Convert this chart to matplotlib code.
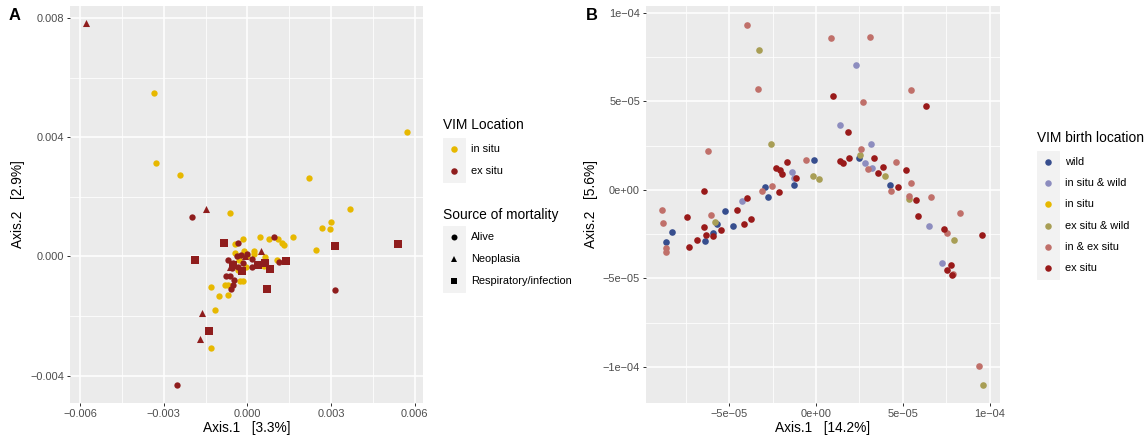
import numpy as np
import matplotlib
matplotlib.use("Agg")
import matplotlib.pyplot as plt
from matplotlib.lines import Line2D
from matplotlib.patches import Rectangle
from matplotlib.ticker import FixedLocator, FixedFormatter

plt.rcParams['font.family'] = ['Liberation Sans', 'DejaVu Sans']

W, H, DPI = 1148, 442, 72

# ---------------- panel A data (units of 1e-3) ----------------
insitu_x = [-3.34, -3.28, -2.42, 5.73, 2.21, 3.69, 3.01, 2.66, 2.95, 2.46, 1.62, -0.62,
            -0.44, -0.14, 0.44, 0.77, 1.11, 1.25, 1.31, -0.43, -0.11, 0.25, 0.25, 0.63,
            1.06, 0.58, -0.34, -0.26, -0.17, -0.80, -0.68, -1.32, -1.01, -0.69, -1.17,
            -1.30, -0.05, -0.02, -0.29]
insitu_y = [5.49, 3.15, 2.75, 4.19, 2.62, 1.60, 1.15, 0.97, 0.93, 0.21, 0.67, 1.45,
            0.41, 0.60, 0.66, 0.59, 0.60, 0.44, 0.40, 0.11, 0.17, 0.18, 0.07, -0.02,
            -0.11, -0.31, -0.45, -0.84, -0.84, -0.95, -0.95, -1.02, -1.32, -1.29, -1.79,
            -3.09, -0.34, 0.00, -0.11]

exsitu_alive_x = [-2.00, -2.54, 3.13, 0.96, -0.34, 1.14, -0.23, -0.02, -0.68, -0.50, -0.32,
                  0.17, 0.17, -0.76, -0.62, -0.47, -0.50, -0.58, -0.14, -0.38, -0.56]
exsitu_alive_y = [1.32, -4.33, -1.14, 0.64, 0.46, -0.17, 0.06, 0.07, -0.13, -0.22, -0.34,
                  -0.09, -0.37, -0.67, -0.67, -0.78, -0.95, -1.10, -0.22, 0.00, -0.39]

neoplasia_x = [-5.77, -1.48, 0.50, -1.62, -1.69, -0.08, -0.62]
neoplasia_y = [7.83, 1.59, 0.17, -1.90, -2.76, 0.02, -0.34]

respiratory_x = [-0.82, -1.86, 3.13, 5.39, 0.69, 1.37, 0.80, 0.37, -0.18, -1.36, 0.65, -0.50]
respiratory_y = [0.45, -0.12, 0.35, 0.41, -1.10, -0.16, -0.42, -0.29, -0.49, -2.50, -0.22, -0.28]

a_xticks = [-0.006, -0.003, 0.0, 0.003, 0.006]
a_xlabels = ["\u22120.006", "\u22120.003", "0.000", "0.003", "0.006"]
a_yticks = [-0.004, 0.0, 0.004, 0.008]
a_ylabels = ["\u22120.004", "0.000", "0.004", "0.008"]

# ---------------- panel B data (units of 1e-5) ----------------
b_groups = ["wild", "in situ & wild", "in situ", "ex situ & wild", "in & ex situ", "ex situ"]
b_colors = ["#374E8E", "#8D8DBF", "#E7B800", "#A89E55", "#C0706A", "#991A1A"]

b_x = {
    "wild": [-0.10, 2.47, -2.95, -2.78, -1.25, -5.24, -4.76, -5.68, -5.91, -6.37, -8.30, -8.63, 4.28],
    "in situ & wild": [2.28, 1.40, 3.15, -1.38, -1.25, -4.28, 2.80, 3.20, 6.48, 7.27],
    "in situ": [],
    "ex situ & wild": [-3.26, -2.57, -0.17, 0.17, 2.53, 3.95, -5.79, 5.33, 7.92, 9.59],
    "in & ex situ": [-3.97, 0.88, 3.09, -3.32, 2.72, 5.45, -6.19, -0.58, 2.57, 4.60, 2.99, -2.53,
                     -3.13, -6.04, -8.84, -8.82, -8.63, -8.63, 4.33, 5.47, 5.37, 6.60, 8.30,
                     7.52, 7.86, 9.36],
    "ex situ": [1.00, 6.35, 1.82, -1.69, -2.32, -2.07, -1.96, -1.15, -2.15, -3.95, -6.46, -4.53,
                -7.44, -7.33, -6.87, -6.43, -6.33, -5.95, -5.47, -4.14, -3.72, 1.38, 1.53, 1.92,
                3.36, 3.84, 3.55, 5.20, 4.70, 5.73, 5.89, 7.36, 7.75, 7.52, 7.84, 9.55],
}
b_y = {
    "wild": [1.67, 1.79, 0.15, -0.39, 0.30, -1.18, -2.03, -1.95, -2.42, -2.91, -2.39, -2.93, 0.30],
    "in situ & wild": [7.03, 3.67, 2.58, 1.03, 0.66, -0.62, 1.54, 1.22, -2.05, -4.14],
    "in situ": [],
    "ex situ & wild": [7.91, 2.59, 0.77, 0.60, 1.97, 0.81, -1.84, -0.49, -2.82, -11.03],
    "in & ex situ": [9.32, 8.55, 8.61, 5.71, 4.94, 5.62, 2.18, 1.69, 2.29, 1.60, 1.18, 0.24,
                     -0.08, -1.39, -1.13, -1.86, -3.29, -3.50, -0.04, 0.38, -0.34, -0.41, -1.33,
                     -2.44, -4.72, -9.94],
    "ex situ": [5.32, 4.76, 3.25, 1.60, 1.24, 1.13, 0.88, 0.66, -0.13, -0.43, -0.06, -1.13,
                -1.52, -3.20, -2.84, -2.09, -2.56, -2.59, -2.24, -1.94, -1.65, 1.65, 1.50, 1.79,
                1.82, 1.30, 0.98, 1.11, 0.15, -0.58, -1.50, -2.18, -4.25, -4.55, -4.83, -2.56],
}

b_xticks = [-5e-5, 0.0, 5e-5, 1e-4]
b_xlabels = ["\u22125e\u221205", "0e+00", "5e\u221205", "1e\u221204"]
b_yticks = [-1e-4, -5e-5, 0.0, 5e-5, 1e-4]
b_ylabels = ["\u22121e\u221204", "\u22125e\u221205", "0e+00", "5e\u221205", "1e\u221204"]

YELLOW = "#E7B800"
DARKRED = "#8F1D1D"


def fx(px):
    return px / W


def fy(py):
    return 1 - py / H


def style_axes(ax, xticks, xlabels, yticks, ylabels):
    ax.set_facecolor('#EBEBEB')
    for s in ax.spines.values():
        s.set_visible(False)
    ax.xaxis.set_major_locator(FixedLocator(xticks))
    ax.xaxis.set_major_formatter(FixedFormatter(xlabels))
    ax.yaxis.set_major_locator(FixedLocator(yticks))
    ax.yaxis.set_major_formatter(FixedFormatter(ylabels))
    xm = np.array(xticks)
    ym = np.array(yticks)
    dx = xm[1] - xm[0]
    dy = ym[1] - ym[0]
    ax.xaxis.set_minor_locator(FixedLocator(list(np.arange(xm[0] - dx, xm[-1] + 2 * dx, dx) + dx / 2)))
    ax.yaxis.set_minor_locator(FixedLocator(list(np.arange(ym[0] - dy, ym[-1] + 2 * dy, dy) + dy / 2)))
    ax.grid(which='major', color='white', lw=1.5)
    ax.grid(which='minor', color='white', lw=0.75)
    ax.tick_params(which='minor', length=0)
    ax.tick_params(which='major', length=3.4, width=1.0, color='#333333',
                   labelcolor='#4D4D4D', labelsize=11, pad=2.5)
    ax.set_axisbelow(True)


def draw_legend(fig, x0, y_title, title, labels, colors, markers, key_top, step, ms):
    fig.text(fx(x0), fy(y_title), title, fontsize=13.75, va='center', ha='left')
    n = len(labels)
    fig.patches.append(Rectangle((fx(x0), fy(key_top + n * step)), 22 / W, n * step / H,
                                 transform=fig.transFigure, color='#F2F2F2', zorder=0))
    for i, (lab, c, m) in enumerate(zip(labels, colors, markers)):
        yc = key_top + step * (i + 0.5)
        fig.add_artist(Line2D([fx(x0 + 11)], [fy(yc)], marker=m, color=c, ms=ms, mew=0,
                              linestyle='none', transform=fig.transFigure))
        fig.text(fx(x0 + 28), fy(yc), lab, fontsize=11, va='center', ha='left')


fig = plt.figure(figsize=(W / DPI, H / DPI), dpi=DPI)

# ---------------- panel A ----------------
axA = fig.add_axes([fx(70), fy(403), 353 / W, 397 / H])
s = 1e-3
axA.scatter(np.array(insitu_x) * s, np.array(insitu_y) * s, s=40, color=YELLOW, marker='o', lw=0)
axA.scatter(np.array(exsitu_alive_x) * s, np.array(exsitu_alive_y) * s, s=40, color=DARKRED, marker='o', lw=0)
axA.scatter(np.array(neoplasia_x) * s, np.array(neoplasia_y) * s, s=50, color=DARKRED, marker='^', lw=0)
axA.scatter(np.array(respiratory_x) * s, np.array(respiratory_y) * s, s=50, color=DARKRED, marker='s', lw=0)
axA.set_xlim(-0.00636, 0.00630)
axA.set_ylim(-0.00492, 0.00841)
style_axes(axA, a_xticks, a_xlabels, a_yticks, a_ylabels)
axA.set_xlabel("Axis.1   [3.3%]", fontsize=13.75, labelpad=2)
axA.set_ylabel("Axis.2   [2.9%]", fontsize=13.75, labelpad=5)
fig.text(fx(9), fy(15), "A", fontsize=16.5, fontweight='bold', va='center', ha='left')

draw_legend(fig, 443, 125, "VIM Location", ["in situ", "ex situ"], [YELLOW, DARKRED],
            ['o', 'o'], 138, 22, 6.5)
draw_legend(fig, 443, 215, "Source of mortality", ["Alive", "Neoplasia", "Respiratory/infection"],
            ['black', 'black', 'black'], ['o', '^', 's'], 226, 22, 6)

# ---------------- panel B ----------------
axB = fig.add_axes([fx(646), fy(403), 354 / W, 397 / H])
sb = 1e-5
for g, c in zip(b_groups, b_colors):
    if len(b_x[g]):
        axB.scatter(np.array(b_x[g]) * sb, np.array(b_y[g]) * sb, s=44, color=c, marker='o', lw=0)
axB.set_xlim(-9.78e-5, 10.59e-5)
axB.set_ylim(-12.03e-5, 10.38e-5)
style_axes(axB, b_xticks, b_xlabels, b_yticks, b_ylabels)
axB.set_xlabel("Axis.1   [14.2%]", fontsize=13.75, labelpad=2)
axB.set_ylabel("Axis.2   [5.6%]", fontsize=13.75, labelpad=5)
fig.text(fx(586), fy(15), "B", fontsize=16.5, fontweight='bold', va='center', ha='left')

draw_legend(fig, 1037, 138, "VIM birth location", b_groups, b_colors, ['o'] * 6, 151, 21.3, 6.5)

fig.savefig("out.png", dpi=DPI)
